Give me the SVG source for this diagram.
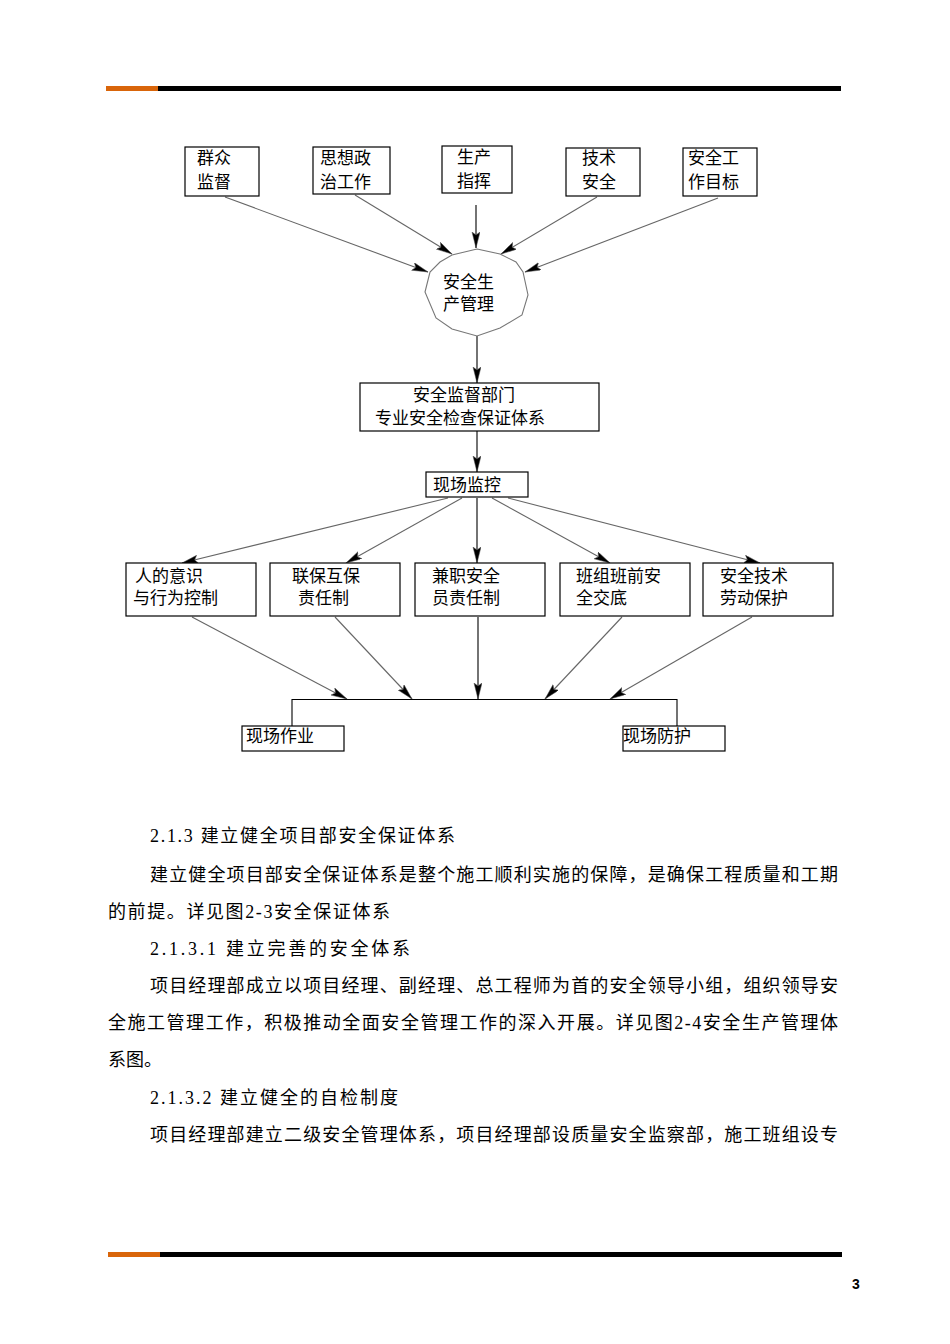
<svg xmlns="http://www.w3.org/2000/svg" width="950" height="1344" viewBox="0 0 950 1344">
<style>
.n{fill:#fff;stroke:#000;stroke-width:1.2}
.t{font-family:"Liberation Serif","Noto Sans CJK SC",serif;font-size:17px;fill:#000}
.b{font-family:"Liberation Serif","Noto Sans CJK SC",serif;font-size:18px;fill:#000}
.d{stroke:#666;stroke-width:1.1;fill:none;marker-end:url(#ah)}
.v{stroke:#000;stroke-width:1.1;fill:none;marker-end:url(#ah)}
.p{stroke:#000;stroke-width:1.1;fill:none}
</style>
<defs>
<marker id="ah" markerUnits="userSpaceOnUse" markerWidth="18" markerHeight="9" refX="16" refY="4" orient="auto">
<path d="M0,0 L16,4 L0,8 L3,4 z" fill="#000" stroke="#555" stroke-width="0.5"/>
</marker>
</defs>
<rect width="950" height="1344" fill="#fff"/>
<g id="header">
<rect x="106" y="86" width="52" height="5" fill="#d9650a"/>
<rect x="158" y="86" width="683" height="5" fill="#000"/>
</g>
<g id="footer">
<rect x="108" y="1252" width="52" height="5" fill="#d9650a"/>
<rect x="160" y="1252" width="682" height="5" fill="#000"/>
<text x="852" y="1289" font-family="Liberation Sans,sans-serif" font-size="14" font-weight="bold">3</text>
</g>
<g id="connectors">
<line class="d" x1="225" y1="197" x2="428" y2="272"/>
<line class="d" x1="355" y1="195" x2="452" y2="254"/>
<line class="v" x1="476" y1="205" x2="476" y2="248"/>
<line class="d" x1="597" y1="197" x2="501" y2="254"/>
<line class="d" x1="718" y1="198" x2="525" y2="272"/>
<line class="v" x1="477" y1="336" x2="477" y2="383"/>
<line class="v" x1="477" y1="431" x2="477" y2="472"/>
<line class="d" x1="448" y1="498" x2="182" y2="563"/>
<line class="d" x1="462" y1="498" x2="346" y2="563"/>
<line class="v" x1="477" y1="498" x2="477" y2="563"/>
<line class="d" x1="492" y1="498" x2="610" y2="563"/>
<line class="d" x1="508" y1="498" x2="760" y2="563"/>
<line class="d" x1="192" y1="617" x2="347" y2="699"/>
<line class="d" x1="335" y1="617" x2="412" y2="699"/>
<line class="v" x1="478" y1="617" x2="478" y2="699"/>
<line class="d" x1="622" y1="617" x2="545" y2="699"/>
<line class="d" x1="752" y1="617" x2="610" y2="699"/>
<polyline class="p" points="292,726 292,699.5 677,699.5 677,726"/>
</g>
<g id="n1"><rect class="n" x="185" y="147" width="74" height="49"/><text class="t" x="197" y="164">群众</text><text class="t" x="197" y="188">监督</text></g>
<g id="n2"><rect class="n" x="313" y="147" width="77" height="47"/><text class="t" x="320" y="164">思想政</text><text class="t" x="320" y="188">治工作</text></g>
<g id="n3"><rect class="n" x="442" y="146" width="70" height="47"/><text class="t" x="457" y="163">生产</text><text class="t" x="457" y="187">指挥</text></g>
<g id="n4"><rect class="n" x="566" y="148" width="74" height="48"/><text class="t" x="582" y="164">技术</text><text class="t" x="582" y="188">安全</text></g>
<g id="n5"><rect class="n" x="683" y="148" width="74" height="48"/><text class="t" x="688" y="164">安全工</text><text class="t" x="688" y="188">作目标</text></g>
<g id="center"><polygon points="477,249 500,254 516,262 523,272 528,295 522,315 500,328 477,336 452,329 436,318 425,292 430,272 440,262 452,255" fill="#fff" stroke="#777" stroke-width="1.1"/><text class="t" x="443" y="288">安全生</text><text class="t" x="443" y="310">产管理</text></g>
<g id="n6"><rect class="n" x="360" y="383" width="239" height="48"/><text class="t" x="413" y="401">安全监督部门</text><text class="t" x="375" y="424">专业安全检查保证体系</text></g>
<g id="n7"><rect class="n" x="426" y="472" width="102" height="25"/><text class="t" x="433" y="491">现场监控</text></g>
<g id="r1"><rect class="n" x="126" y="563" width="130" height="53"/><text class="t" x="135" y="582">人的意识</text><text class="t" x="133" y="604">与行为控制</text></g>
<g id="r2"><rect class="n" x="270" y="563" width="130" height="53"/><text class="t" x="292" y="582">联保互保</text><text class="t" x="298" y="604">责任制</text></g>
<g id="r3"><rect class="n" x="415" y="563" width="130" height="53"/><text class="t" x="432" y="582">兼职安全</text><text class="t" x="432" y="604">员责任制</text></g>
<g id="r4"><rect class="n" x="560" y="563" width="130" height="53"/><text class="t" x="576" y="582">班组班前安</text><text class="t" x="576" y="604">全交底</text></g>
<g id="r5"><rect class="n" x="703" y="563" width="130" height="53"/><text class="t" x="720" y="582">安全技术</text><text class="t" x="720" y="604">劳动保护</text></g>
<g id="b1"><rect class="n" x="242" y="726" width="102" height="25"/><text class="t" x="246" y="742">现场作业</text></g>
<g id="b2"><rect class="n" x="623" y="726" width="102" height="25"/><text class="t" x="623" y="742">现场防护</text></g>
<g id="body">
<text class="b" x="150" y="842" textLength="305" lengthAdjust="spacing">2.1.3 建立健全项目部安全保证体系</text>
<text class="b" x="150" y="881" textLength="688" lengthAdjust="spacing">建立健全项目部安全保证体系是整个施工顺利实施的保障，是确保工程质量和工期</text>
<text class="b" x="108" y="918" textLength="282" lengthAdjust="spacing">的前提。详见图2-3安全保证体系</text>
<text class="b" x="150" y="955" textLength="260" lengthAdjust="spacing">2.1.3.1 建立完善的安全体系</text>
<text class="b" x="150" y="992" textLength="688" lengthAdjust="spacing">项目经理部成立以项目经理、副经理、总工程师为首的安全领导小组，组织领导安</text>
<text class="b" x="108" y="1029" textLength="730" lengthAdjust="spacing">全施工管理工作，积极推动全面安全管理工作的深入开展。详见图2-4安全生产管理体</text>
<text class="b" x="108" y="1066">系图。</text>
<text class="b" x="150" y="1104" textLength="248" lengthAdjust="spacing">2.1.3.2 建立健全的自检制度</text>
<text class="b" x="150" y="1141" textLength="688" lengthAdjust="spacing">项目经理部建立二级安全管理体系，项目经理部设质量安全监察部，施工班组设专</text>
</g>
</svg>
